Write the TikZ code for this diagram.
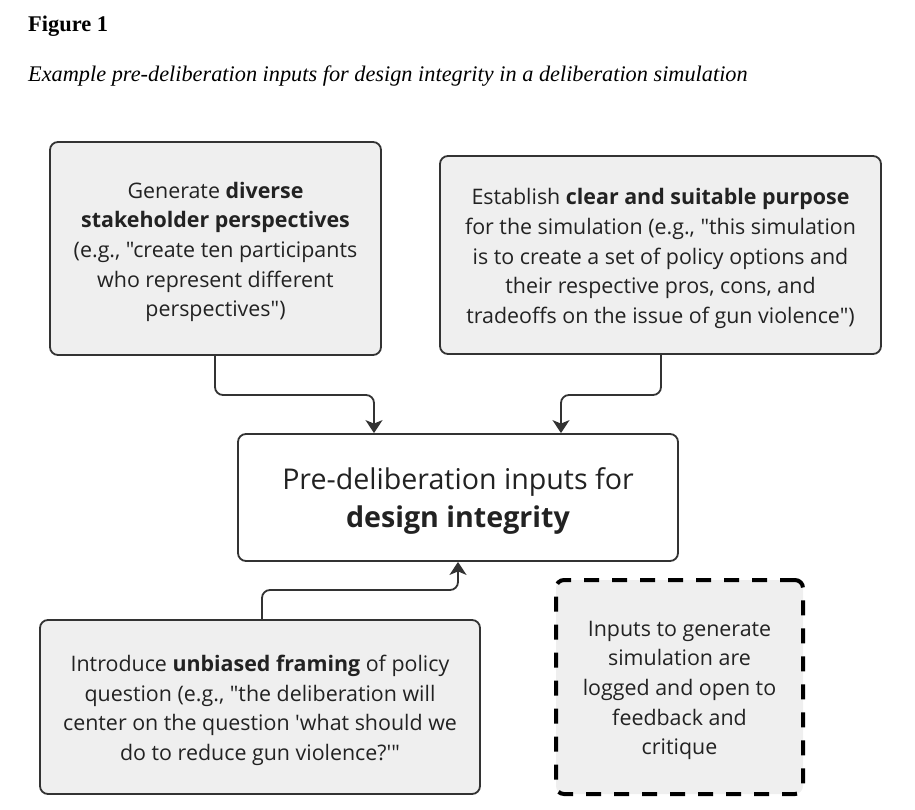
\documentclass[tikz,border=0pt]{standalone}
\usepackage{fontspec}
\setmainfont{Liberation Serif}
\newfontfamily\osans{Open Sans}
\usetikzlibrary{arrows.meta}
\definecolor{boxfill}{HTML}{EFEFEF}
\definecolor{edge}{HTML}{333333}
\definecolor{ink}{HTML}{222222}
\tikzset{
  x=1pt, y=-1pt,
  inbox/.style={draw=edge, line width=1.8pt, fill=boxfill, rounded corners=8pt, inner sep=0pt},
  mainbox/.style={draw=edge, line width=1.8pt, fill=white, rounded corners=8pt, inner sep=0pt},
  dashbox/.style={draw=black, line width=4pt, dash pattern=on 15pt off 13pt, fill=boxfill, rounded corners=8pt, inner sep=0pt},
  boxtext/.style={align=center, text=ink, font=\osans\fontsize{21.4}{29.7}\selectfont},
  bigtext/.style={align=center, text=ink, font=\osans\fontsize{28.6}{38}\selectfont},
  conn/.style={draw=edge, line width=1.8pt, rounded corners=8pt, -{Stealth[length=13pt,width=17pt,inset=3.5pt]}},
}
\begin{document}
\begin{tikzpicture}
\useasboundingbox (0,0) rectangle (915,809);
\node[anchor=base west, inner sep=0pt, font=\bfseries\fontsize{22.4}{24}\selectfont] (fig) at (28,31) {Figure 1};
\node[anchor=base west, inner sep=0pt, font=\itshape\fontsize{22.3}{24}\selectfont] (cap) at (28,81) {Example pre-deliberation inputs for design integrity in a deliberation simulation};

\node[inbox, minimum width=331pt, minimum height=213pt] (A) at (215.5,248.5) {};
\node[boxtext] (At) at ([yshift=-3.5pt]A.center) {Generate \textbf{diverse}\\\textbf{stakeholder perspectives}\\(e.g., "create ten participants\\who represent different\\perspectives")};

\node[inbox, minimum width=441pt, minimum height=198pt] (B) at (660.5,255) {};
\node[boxtext] (Bt) at ([yshift=-3.5pt]B.center) {Establish \textbf{clear and suitable purpose}\\for the simulation (e.g., "this simulation\\is to create a set of policy options and\\their respective pros, cons, and\\tradeoffs on the issue of gun violence")};

\node[mainbox, minimum width=440pt, minimum height=127pt] (C) at (458,497.5) {};
\node[bigtext] (Ct) at ([yshift=-3pt]C.center) {Pre-deliberation inputs for\\\textbf{design integrity}};

\node[inbox, minimum width=440pt, minimum height=174pt] (D) at (260,707) {};
\node[boxtext] (Dt) at ([yshift=-3.5pt]D.center) {Introduce \textbf{unbiased framing} of policy\\question (e.g., "the deliberation will\\center on the question 'what should we\\do to reduce gun violence?'"};

\node[dashbox, minimum width=247pt, minimum height=214pt] (E) at (679.5,687) {};
\node[boxtext] (Et) at ([yshift=-3.5pt]E.center) {Inputs to generate\\simulation are\\logged and open to\\feedback and\\critique};

\draw[conn] (A.south -| 215,0) |- (294,395) -| (C.north -| 374,0);
\draw[conn] (B.south -| 661,0) |- (611,395) -| (C.north -| 561,0);
\draw[conn] (D.north -| 262,0) |- (360,590) -| (C.south -| 458,0);
\end{tikzpicture}
\end{document}
